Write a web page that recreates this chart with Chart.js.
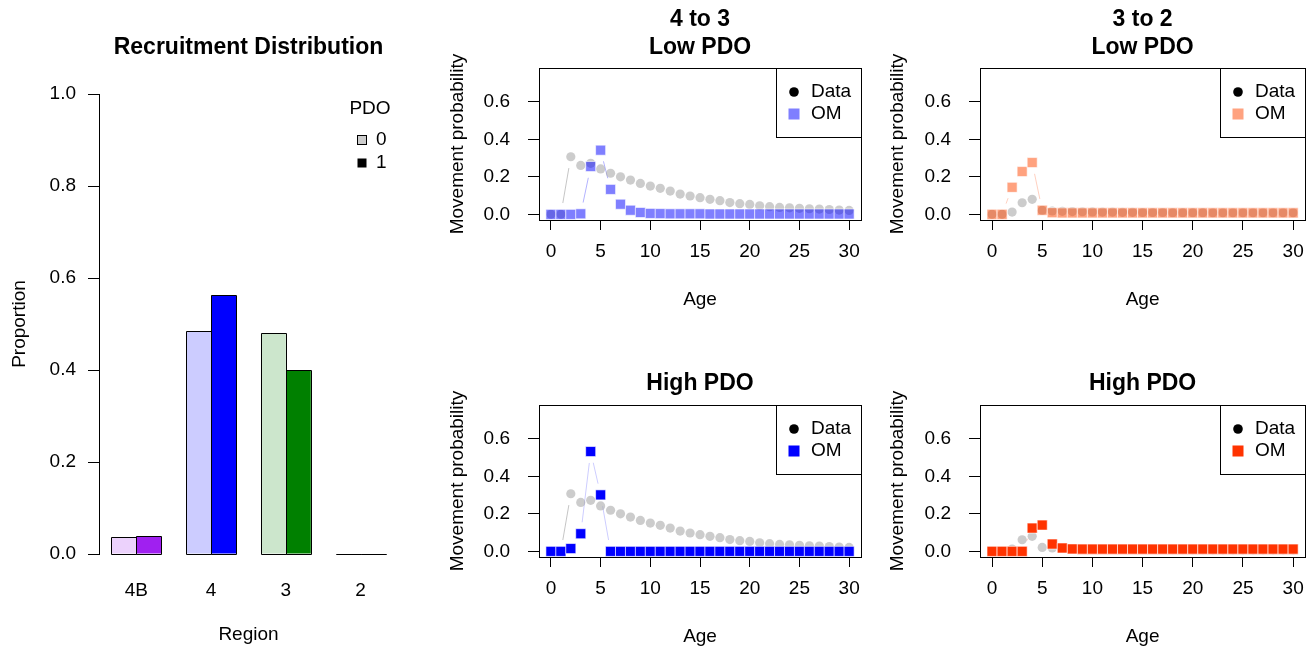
<!DOCTYPE html>
<html>
<head>
<meta charset="utf-8">
<script src="https://cdn.jsdelivr.net/npm/chart.js@4.4.1/dist/chart.umd.min.js"></script>
<style>
  body { margin: 0; background: #fff; width: 1314px; height: 650px; position: relative; overflow: hidden; }
  canvas { position: absolute; }
</style>
</head>
<body>
<canvas id="rec" width="420" height="650" style="left:0;top:0"></canvas>
<canvas id="p43low" width="430" height="325" style="left:440px;top:0"></canvas>
<canvas id="p32low" width="434" height="325" style="left:880px;top:0"></canvas>
<canvas id="p43high" width="430" height="313" style="left:440px;top:337px"></canvas>
<canvas id="p32high" width="434" height="313" style="left:880px;top:337px"></canvas>
<script>
// recruitment by region
const regions = ["4B", "4", "3", "2"];
const recPdo0 = [0.036, 0.485, 0.480, 0];
const recPdo1 = [0.039, 0.562, 0.399, 0];
const recTicks = [0, 0.2, 0.4, 0.6, 0.8, 1.0];

// movement by age
const ages = [0, 1, 2, 3, 4, 5, 6, 7, 8, 9, 10, 11, 12, 13, 14, 15, 16, 17, 18, 19, 20, 21, 22, 23, 24, 25, 26, 27, 28, 29, 30];
const ageTicks = [0, 5, 10, 15, 20, 25, 30];
const moveTicks = [0, 0.2, 0.4, 0.6];
const data43 = [0, 0, 0.307, 0.261, 0.272, 0.242, 0.219, 0.200, 0.183, 0.165, 0.151, 0.139, 0.124, 0.108, 0.098, 0.089, 0.080, 0.073, 0.063, 0.057, 0.053, 0.046, 0.041, 0.037, 0.035, 0.032, 0.030, 0.028, 0.026, 0.023, 0.021];
const om43Low = [0, 0, 0, 0.003, 0.255, 0.342, 0.133, 0.054, 0.022, 0.010, 0.005, 0.004, 0.003, 0.003, 0.003, 0.003, 0.002, 0.002, 0.002, 0.002, 0.002, 0.002, 0.002, 0.002, 0.002, 0.002, 0.002, 0.002, 0.002, 0.002, 0.002];
const om43High = [0, 0, 0.015, 0.094, 0.532, 0.301, 0, 0, 0, 0, 0, 0, 0, 0, 0, 0, 0, 0, 0, 0, 0, 0, 0, 0, 0, 0, 0, 0, 0, 0, 0];
const data32 = [0, 0, 0.012, 0.062, 0.080, 0.021, 0.018, 0.016, 0.015, 0.014, 0.013, 0.012, 0.012, 0.011, 0.011, 0.010, 0.010, 0.010, 0.009, 0.009, 0.009, 0.009, 0.008, 0.008, 0.008, 0.008, 0.008, 0.008, 0.008, 0.008, 0.008];
const om32Low = [0, 0, 0.144, 0.228, 0.276, 0.022, 0.009, 0.008, 0.008, 0.008, 0.008, 0.008, 0.008, 0.008, 0.008, 0.008, 0.008, 0.008, 0.008, 0.008, 0.008, 0.008, 0.008, 0.008, 0.008, 0.008, 0.008, 0.008, 0.008, 0.008, 0.008];
const om32High = [0, 0, 0, 0, 0.124, 0.140, 0.039, 0.018, 0.013, 0.012, 0.012, 0.012, 0.012, 0.012, 0.012, 0.012, 0.012, 0.012, 0.012, 0.012, 0.012, 0.012, 0.012, 0.012, 0.012, 0.012, 0.012, 0.012, 0.012, 0.012, 0.012];

const FONT = "'Liberation Sans', Arial, Helvetica, sans-serif";
Chart.defaults.font.family = FONT;
Chart.defaults.font.size = 19;
Chart.defaults.color = "#000";

const dataGray = "rgba(170,170,170,0.6)";

//bold titles above a plot, given absolute y for every line
const heading = {
  id: "heading",
  afterDraw(chart, args, opts) {
    const { ctx, chartArea: a } = chart;
    ctx.save();
    ctx.font = "bold 23px " + FONT;
    ctx.fillStyle = "#000";
    ctx.textAlign = "center";
    ctx.textBaseline = "middle";
    opts.lines.forEach((t, i) => ctx.fillText(t, (a.left + a.right) / 2, opts.y[i]));
    ctx.restore();
  }
};

//box round the plot region
const frame = {
  id: "frame",
  afterDraw(chart) {
    const { ctx, chartArea: a } = chart;
    ctx.save();
    ctx.strokeStyle = "#000";
    ctx.lineWidth = 1;
    ctx.strokeRect(Math.round(a.left) + 0.5, Math.round(a.top) + 0.5, Math.round(a.right - a.left), Math.round(a.bottom - a.top));
    ctx.restore();
  }
};

//type="b" style lines: segments with a gap at both ends
const gapLines = {
  id: "gapLines",
  beforeDatasetsDraw(chart) {
    const ctx = chart.ctx;
    const gap = 11.5;
    ctx.save();
    ctx.lineWidth = 1;
    chart.data.datasets.forEach((ds, i) => {
      const pts = chart.getDatasetMeta(i).data;
      ctx.strokeStyle = ds.gapColor;
      for (let j = 1; j < pts.length; j++) {
        const p0 = pts[j - 1], p1 = pts[j];
        const dx = p1.x - p0.x, dy = p1.y - p0.y;
        const len = Math.hypot(dx, dy);
        if (len <= 2 * gap) continue;
        const ux = dx / len, uy = dy / len;
        ctx.beginPath();
        ctx.moveTo(p0.x + ux * gap, p0.y + uy * gap);
        ctx.lineTo(p1.x - ux * gap, p1.y - uy * gap);
        ctx.stroke();
      }
    });
    ctx.restore();
  }
};

//legend box in the top right corner
const boxLegend = {
  id: "boxLegend",
  afterDraw(chart, args, opts) {
    const { ctx, chartArea: a } = chart;
    const w = 85, h = 69;
    const left = Math.round(a.right - w), top = Math.round(a.top);
    ctx.save();
    ctx.fillStyle = "#fff";
    ctx.fillRect(left, top, w, h);
    ctx.strokeStyle = "#000";
    ctx.lineWidth = 1;
    ctx.strokeRect(left + 0.5, top + 0.5, w, h);
    const mx = left + 18, tx = left + 35;
    ctx.fillStyle = "#000";
    ctx.beginPath();
    ctx.arc(mx, top + 24, 4.8, 0, Math.PI * 2);
    ctx.fill();
    ctx.fillStyle = opts.omColor;
    ctx.fillRect(mx - 5.5, top + 46 - 5.5, 11, 11);
    ctx.fillStyle = "#000";
    ctx.font = "19px " + FONT;
    ctx.textAlign = "left";
    ctx.textBaseline = "middle";
    ctx.fillText("Data", tx, top + 24);
    ctx.fillText("OM", tx, top + 46);
    ctx.restore();
  }
};

//bar outlines on all four sides, zero bars become a line
const barOutline = {
  id: "barOutline",
  afterDatasetsDraw(chart) {
    const ctx = chart.ctx;
    ctx.save();
    ctx.strokeStyle = "#000";
    ctx.lineWidth = 1;
    chart.data.datasets.forEach((ds, i) => {
      chart.getDatasetMeta(i).data.forEach(el => {
        const top = Math.min(el.y, el.base), bottom = Math.max(el.y, el.base);
        const l = Math.round(el.x - el.width / 2) + 0.5, r = Math.round(el.x + el.width / 2) + 0.5;
        const t = Math.round(top) + 0.5, b = Math.round(bottom) + 0.5;
        ctx.beginPath();
        ctx.rect(l, t, r - l, b - t);
        ctx.stroke();
      });
    });
    ctx.restore();
  }
};

const pdoLegend = {
  id: "pdoLegend",
  afterDraw(chart) {
    const ctx = chart.ctx;
    ctx.save();
    ctx.font = "19px " + FONT;
    ctx.fillStyle = "#000";
    ctx.textBaseline = "middle";
    ctx.textAlign = "center";
    ctx.fillText("PDO", 370, 109);
    ctx.textAlign = "left";
    ctx.fillText("0", 376, 140);
    ctx.fillText("1", 376, 163);
    ctx.fillStyle = "#ccc";
    ctx.fillRect(357.5, 135.5, 9, 9);
    ctx.strokeStyle = "#000";
    ctx.strokeRect(357.5, 135.5, 9, 9);
    ctx.fillStyle = "#000";
    ctx.fillRect(357.5, 158.5, 9, 9);
    ctx.restore();
  }
};

new Chart(document.getElementById("rec"), {
  type: "bar",
  data: {
    labels: regions,
    datasets: [
      { label: "0", data: recPdo0, backgroundColor: ["#ECD2FC", "#CCCCFF", "#CCE6CC", "#FFDACC"], borderWidth: 0 },
      { label: "1", data: recPdo1, backgroundColor: ["#A020F0", "#0000FF", "#008000", "#FF4500"], borderWidth: 0 }
    ]
  },
  options: {
    responsive: false,
    animation: false,
    layout: { padding: { top: 94, right: 22, left: 0, bottom: 0 } },
    datasets: { bar: { categoryPercentage: 2 / 3, barPercentage: 1 } },
    plugins: {
      legend: { display: false },
      tooltip: { enabled: false },
      heading: { lines: ["Recruitment Distribution"], y: [48] }
    },
    scales: {
      x: {
        grid: { display: false, drawTicks: false },
        border: { display: false },
        ticks: { padding: 25 },
        title: { display: true, text: "Region", padding: { top: 0, bottom: 3.6 } },
        afterFit: s => { s.height = 96; }
      },
      y: {
        min: 0, max: 1,
        afterBuildTicks: s => { s.ticks = recTicks.map(v => ({ value: v })); },
        ticks: { padding: 12, callback: v => v.toFixed(1) },
        grid: { drawOnChartArea: false, tickLength: 11, color: "#000" },
        border: { display: true, color: "#000" },
        title: { display: true, text: "Proportion", padding: { top: 8.6, bottom: 0 } },
        afterFit: s => { s.width = 99; }
      }
    }
  },
  plugins: [barOutline, heading, pdoLegend]
});

function movePanel(id, lines, titleY, dataVals, omVals, omFill, omLine, yWidth, rightPad) {
  const canvas = document.getElementById(id);
  const H = canvas.height;
  new Chart(canvas, {
    type: "scatter",
    data: {
      datasets: [
        {
          label: "Data",
          data: ages.map((a, i) => ({ x: a, y: dataVals[i] })),
          pointStyle: "circle", pointRadius: 4.6, backgroundColor: dataGray, borderWidth: 0,
          order: 2, gapColor: "rgba(150,150,150,0.55)"
        },
        {
          label: "OM",
          data: ages.map((a, i) => ({ x: a, y: omVals[i] })),
          pointStyle: "rect", pointRadius: 7.1, backgroundColor: omFill,
          borderColor: "rgba(255,255,255,0.6)", borderWidth: 1,
          order: 1, gapColor: omLine
        }
      ]
    },
    options: {
      responsive: false,
      animation: false,
      layout: { padding: { top: 68, right: rightPad, left: 0, bottom: 0 } },
      plugins: {
        legend: { display: false },
        tooltip: { enabled: false },
        heading: { lines: lines, y: titleY },
        boxLegend: { omColor: omFill }
      },
      scales: {
        x: {
          type: "linear", min: -1.2, max: 31.2,
          afterBuildTicks: s => { s.ticks = ageTicks.map(v => ({ value: v })); },
          ticks: { padding: 10 },
          grid: { drawOnChartArea: false, tickLength: 10, color: "#000" },
          border: { display: false },
          title: { display: true, text: "Age", padding: { top: 0, bottom: H - 311.4 } },
          afterFit: s => { s.height = H - 220; }
        },
        y: {
          min: -0.03, max: 0.78,
          afterBuildTicks: s => { s.ticks = moveTicks.map(v => ({ value: v })); },
          ticks: { padding: 18, callback: v => v.toFixed(1) },
          grid: { drawOnChartArea: false, tickLength: 11, color: "#000" },
          border: { display: false },
          title: { display: true, text: "Movement probability", padding: { top: 6.6, bottom: 0 } },
          afterFit: s => { s.width = yWidth; }
        }
      }
    },
    plugins: [gapLines, frame, heading, boxLegend]
  });
}

movePanel("p43low", ["4 to 3", "Low PDO"], [20, 48], data43, om43Low, "rgba(0,0,255,0.5)", "rgba(0,0,255,0.3)", 99, 5);
movePanel("p32low", ["3 to 2", "Low PDO"], [20, 48], data32, om32Low, "rgba(255,69,0,0.5)", "rgba(255,69,0,0.25)", 100, 8);
movePanel("p43high", ["High PDO"], [47], data43, om43High, "#0000FF", "rgba(0,0,255,0.2)", 99, 5);
movePanel("p32high", ["High PDO"], [47], data32, om32High, "#FF3300", "rgba(255,51,0,0.25)", 100, 8);
</script>
</body>
</html>
